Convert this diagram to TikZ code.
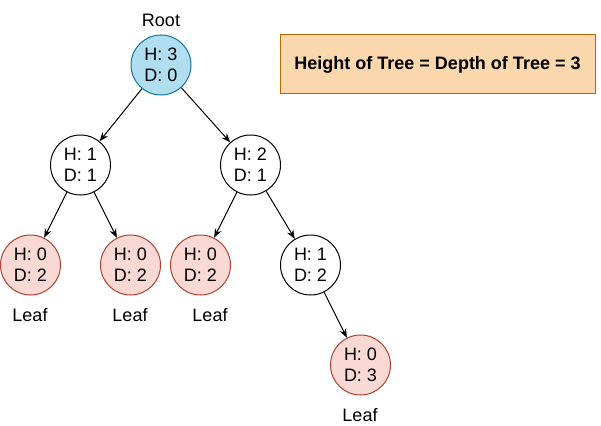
\documentclass[tikz,border=0pt]{standalone}
\usepackage{fontspec}
\setmainfont{Liberation Sans}
\usetikzlibrary{arrows.meta}
\definecolor{rootfill}{HTML}{B1DDF0}
\definecolor{rootdraw}{HTML}{10739E}
\definecolor{leaffill}{HTML}{FAD9D5}
\definecolor{leafdraw}{HTML}{AE4132}
\definecolor{boxfill}{HTML}{FAD7AC}
\definecolor{boxdraw}{HTML}{B46504}
\tikzset{
  tnode/.style={circle, draw=black, fill=white, line width=1pt, minimum size=60pt, inner sep=0pt, align=center, font=\fontsize{18}{21}\selectfont},
  rootnode/.style={tnode, draw=rootdraw, fill=rootfill},
  leafnode/.style={tnode, draw=leafdraw, fill=leaffill},
  lbl/.style={font=\fontsize{18}{21}\selectfont, inner sep=0pt},
  arr/.style={-{Stealth[length=9pt,width=7pt]}, line width=1pt}
}
\begin{document}
\begin{tikzpicture}[x=1pt,y=-1pt]
\useasboundingbox (0,0) rectangle (601,425);
\node[rootnode] (root) at (161,65) {H: 3\\D: 0};
\node[lbl] (rootlbl) at (161,20) {Root};
\node[tnode] (a) at (80.5,165) {H: 1\\D: 1};
\node[tnode] (b) at (250.5,165) {H: 2\\D: 1};
\node[leafnode] (a1) at (30.5,265) {H: 0\\D: 2};
\node[leafnode] (a2) at (130.5,265) {H: 0\\D: 2};
\node[leafnode] (b1) at (200.5,265) {H: 0\\D: 2};
\node[tnode] (b2) at (310.5,265) {H: 1\\D: 2};
\node[leafnode] (c1) at (360.5,365) {H: 0\\D: 3};
\node[lbl] (la1) at (30,315) {Leaf};
\node[lbl] (la2) at (130,315) {Leaf};
\node[lbl] (lb1) at (210,315) {Leaf};
\node[lbl] (lc1) at (360,415) {Leaf};
\node[draw=boxdraw, fill=boxfill, line width=1pt, minimum width=315pt, minimum height=59pt, inner sep=0pt, font=\fontsize{18}{21}\selectfont\bfseries] (box) at (437.5,64.5) {Height of Tree = Depth of Tree = 3};
\draw[arr] (root) -- (a);
\draw[arr] (root) -- (b);
\draw[arr] (a) -- (a1);
\draw[arr] (a) -- (a2);
\draw[arr] (b) -- (b1);
\draw[arr] (b) -- (b2);
\draw[arr] (b2) -- (c1);
\end{tikzpicture}
\end{document}
